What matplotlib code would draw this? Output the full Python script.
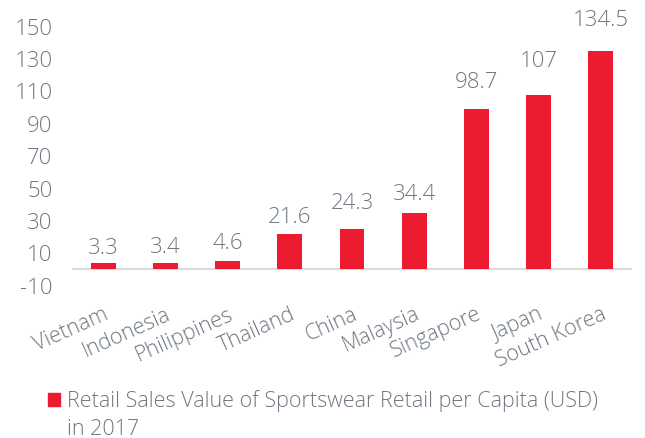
import matplotlib
matplotlib.use("Agg")
import matplotlib.pyplot as plt
from matplotlib.patches import Rectangle

countries = ["Vietnam", "Indonesia", "Philippines", "Thailand", "China",
             "Malaysia", "Singapore", "Japan", "South Korea"]
values = [3.3, 3.4, 4.6, 21.6, 24.3, 34.4, 98.7, 107, 134.5]
value_labels = ["3.3", "3.4", "4.6", "21.6", "24.3", "34.4", "98.7", "107", "134.5"]
yticks = [-10, 10, 30, 50, 70, 90, 110, 130, 150]
legend_lines = ["Retail Sales Value of Sportswear Retail per Capita (USD)", "in 2017"]

# label gap above each bar (points), as placed in the original
label_gap_pt = [7, 8, 9.4, 8.2, 14.9, 10, 15.8, 20.9, 18.7]

RED = "#ED1B2F"
GRAY = "#6E7781"

plt.rcParams['font.family'] = ['Open Sans', 'DejaVu Sans']
plt.rcParams['font.weight'] = 'light'

W, H = 645, 439
fig = plt.figure(figsize=(W / 100, H / 100), dpi=100)
ax = fig.add_axes([72 / W, 0.3492, 560 / W, 0.5904])

x = list(range(len(countries)))
bars = ax.bar(x, values, width=0.4, color=RED, zorder=2)
ax.axhline(0, color="#DADADA", lw=1.5, zorder=1)

for xi, v, lab, g in zip(x, values, value_labels, label_gap_pt):
    ax.annotate(lab, (xi, v), xytext=(0, g), textcoords="offset points",
                ha="center", va="baseline", fontsize=16, color=GRAY,
                annotation_clip=False)

ax.set_xlim(-0.5, 8.5)
ax.set_ylim(-10, 150)
ax.set_yticks(yticks)
ax.set_yticklabels([str(t) for t in yticks], fontsize=16, color=GRAY)
ax.set_xticks(x)
ax.set_xticklabels(countries, rotation=24, ha="right", rotation_mode="anchor",
                   fontsize=15.5, color=GRAY)
ax.tick_params(axis="both", length=0)
ax.tick_params(axis="y", pad=14)
ax.tick_params(axis="x", pad=13)
for s in ax.spines.values():
    s.set_visible(False)

# legend: red square + two text lines
fig.patches.append(Rectangle((48 / W, 1 - 407 / H), 12 / W, 13 / H,
                             transform=fig.transFigure, color=RED, figure=fig))
fig.text(67 / W, 1 - 407 / H, legend_lines[0], ha="left", va="baseline",
         fontsize=15.5, color=GRAY)
fig.text(67 / W, 1 - 435 / H, legend_lines[1], ha="left", va="baseline",
         fontsize=15.5, color=GRAY)

fig.savefig("out.png", dpi=100)
